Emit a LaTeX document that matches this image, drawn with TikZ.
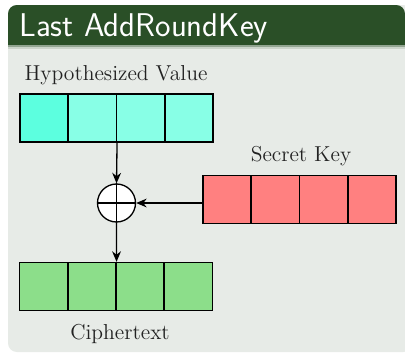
\documentclass[tikz,border=0pt]{standalone}
\usepackage{fontspec}
\usetikzlibrary{arrows.meta,positioning}
\definecolor{titlegreen}{HTML}{2A4F27}
\definecolor{blockgray}{HTML}{E7EBE7}
\definecolor{hvfirst}{HTML}{5CFFDF}
\definecolor{hvcell}{HTML}{88FFE6}
\definecolor{keyred}{HTML}{FF8080}
\definecolor{ctgreen}{HTML}{8CDE8A}
\definecolor{labelgray}{HTML}{222222}

\begin{document}
\begin{tikzpicture}[x=0.02cm, y=-0.02cm,
    every node/.style={align=center},
    tag/.style={font=\fontsize{12.3}{14}\selectfont, text=labelgray},
    heading/.style={font=\sffamily\fontsize{18.7}{21}\selectfont,
                    text=white, inner sep=0pt},
    cell/.style={rectangle, draw=black, line width=0.75pt,
                 minimum size=0.96cm, inner sep=0pt},
    hvbox/.style={cell, fill=hvcell},
    keybox/.style={cell, fill=keyred},
    ctbox/.style={cell, fill=ctgreen},
    xorop/.style={circle, draw=black, fill=white, line width=0.75pt,
                  minimum size=0.76cm, inner sep=0pt},
    arr/.style={-{Stealth[length=6pt, width=5pt]}, line width=0.75pt}
  ]
  \useasboundingbox (0,0) rectangle (405,352);
  % block frame
  \fill[blockgray, rounded corners=5pt] (8,5) rectangle (412,352);
  \fill[titlegreen, rounded corners=5pt] (8,5) rectangle (405,45);
  \fill[titlegreen] (8,30) rectangle (405,45);
  \fill[titlegreen!45!blockgray] (8,45) rectangle (405,47);
  \fill[titlegreen!15!blockgray] (8,47) rectangle (405,49);
  \node[heading, anchor=base west] (title) at (19,36) {Last AddRoundKey};

  \node[tag, anchor=base] (hvlabel) at (116,80) {Hypothesized Value};
  \node[hvbox, fill=hvfirst] (hv1) at (44.1,118) {};
  \node[hvbox] (hv2) at (92.4,118) {};
  \node[hvbox] (hv3) at (140.6,118) {};
  \node[hvbox] (hv4) at (188.9,118) {};

  \node[tag, anchor=base] (sklabel) at (301,161) {Secret Key};
  \node[keybox] (sk1) at (227.1,199.5) {};
  \node[keybox] (sk2) at (275.4,199.5) {};
  \node[keybox] (sk3) at (323.6,199.5) {};
  \node[keybox] (sk4) at (371.9,199.5) {};

  \node[xorop] (xor) at (116.5,203) {};
  \draw[line width=0.75pt] (xor.north) -- (xor.south);
  \draw[line width=0.75pt] (xor.west) -- (xor.east);

  \node[ctbox] (ct1) at (43.6,286.5) {};
  \node[ctbox] (ct2) at (91.9,286.5) {};
  \node[ctbox] (ct3) at (140.1,286.5) {};
  \node[ctbox] (ct4) at (188.4,286.5) {};
  \node[tag, anchor=base] (ctlabel) at (120,339) {Ciphertext};

  \draw[arr] (hv2.south east) -- (xor.north);
  \draw[arr] (xor.south) -- (ct2.north east);
  \draw[arr] (sk1.west |- xor.east) -- (xor.east);
\end{tikzpicture}
\end{document}
